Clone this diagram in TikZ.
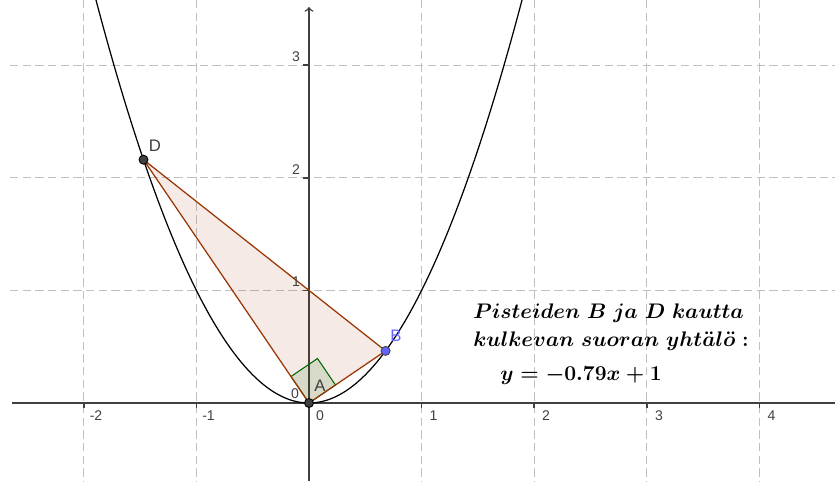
\documentclass[tikz,border=0pt]{standalone}
\usepackage{fontspec}
\newfontfamily\ggbfont{Liberation Sans}
\definecolor{gridgray}{RGB}{192,192,192}
\definecolor{axisgray}{RGB}{64,64,64}
\definecolor{polybrown}{RGB}{153,51,0}
\definecolor{anglegreen}{RGB}{0,100,0}
\definecolor{pointblue}{RGB}{100,100,255}
\begin{document}
\begin{tikzpicture}[x=0.2mm,y=-0.2mm,line width=0.4pt,every node/.style={font=\ggbfont\footnotesize,text=axisgray,inner sep=1pt}]
\clip (0,0) rectangle (835,481);
\coordinate (A) at (309,403);
\coordinate (B) at (385.6,350.9);
\coordinate (D) at (143.5,159.7);
\coordinate (R1) at (335.5,385.0);
\coordinate (R2) at (317.5,358.5);
\coordinate (R3) at (291.0,376.5);
\begin{scope}[gridgray,line width=0.75pt,dash pattern=on 4.8pt off 2.4pt]
\draw (83.8,0) -- (83.8,481);
\draw (196.4,0) -- (196.4,481);
\draw (421.6,0) -- (421.6,481);
\draw (534.2,0) -- (534.2,481);
\draw (646.8,0) -- (646.8,481);
\draw (759.4,0) -- (759.4,481);
\draw (10,290.4) -- (835,290.4);
\draw (10,177.8) -- (835,177.8);
\draw (10,65.2) -- (835,65.2);
\end{scope}
\begin{scope}[axisgray,line width=0.85pt]
\draw (12,403) -- (840,403);
\draw[->] (309,481) -- (309,7);
\draw (83.8,403) -- (83.8,408);
\draw (196.4,403) -- (196.4,408);
\draw (421.6,403) -- (421.6,408);
\draw (534.2,403) -- (534.2,408);
\draw (646.8,403) -- (646.8,408);
\draw (759.4,403) -- (759.4,408);
\draw (303,290.4) -- (309,290.4);
\draw (303,177.8) -- (309,177.8);
\draw (303,65.2) -- (309,65.2);
\end{scope}
\draw[line width=0.7pt] plot[domain=-1.95:1.95,samples=90,smooth] ({309+112.6*\x},{403-112.6*\x*\x});
\fill[polybrown,fill opacity=0.1] (A) -- (B) -- (D) -- cycle;
\filldraw[draw=anglegreen,fill=anglegreen,fill opacity=0.12,line width=0.6pt] (A) -- (R1) -- (R2) -- (R3) -- cycle;
\draw[polybrown,line width=0.7pt] (A) -- (B) -- (D) -- cycle;
\filldraw[fill=axisgray,draw=black,line width=0.5pt] (D) circle[radius=4.5];
\filldraw[fill=axisgray,draw=black,line width=0.5pt] (A) circle[radius=4.5];
\filldraw[fill=pointblue,draw=axisgray,line width=0.5pt] (B) circle[radius=4.5];
\node (Xm2) at (96,416) {-2};
\node (Xm1) at (208.5,416) {-1};
\node (X0) at (320,416) {0};
\node (X1) at (433.5,416) {1};
\node (X2) at (546,416) {2};
\node (X3) at (659,416) {3};
\node (X4) at (771.5,416) {4};
\node (Y0) at (295,394) {0};
\node (Y1) at (296,282) {1};
\node (Y2) at (296,170) {2};
\node (Y3) at (296,57) {3};
\node[font=\ggbfont\fontsize{9.5}{11}\selectfont] (LD) at (155,146) {D};
\node[font=\ggbfont\fontsize{9.5}{11}\selectfont] (LA) at (320,386) {A};
\node[font=\ggbfont\fontsize{9.5}{11}\selectfont,text=pointblue] (LB) at (396,336) {B};
\begin{scope}[every node/.style={font=\fontsize{12.1}{14}\selectfont\boldmath,text=black,inner sep=0pt,anchor=base west}]
\node (T1) at (473,318) {$Pisteiden\ B\ ja\ D\ kautta$};
\node (T2) at (473,346) {$kulkevan\ suoran\ yht\ddot{a}l\ddot{o}:$};
\node (T3) at (500,380) {$y=-0.79x+1$};
\end{scope}
\end{tikzpicture}
\end{document}
